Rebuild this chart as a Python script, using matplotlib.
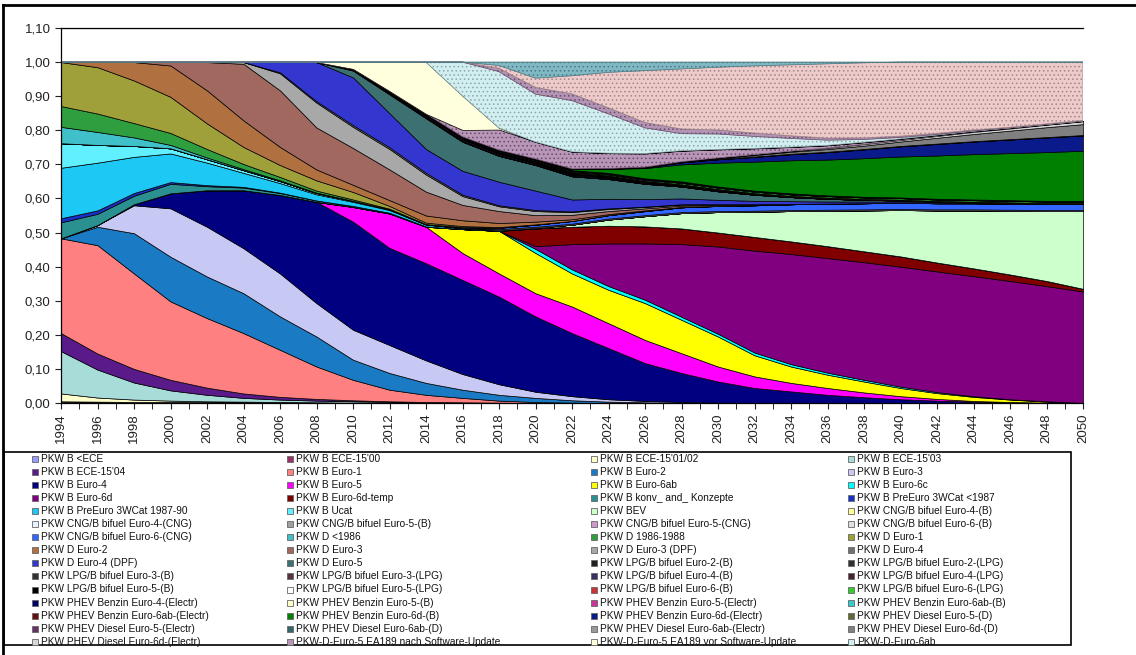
import matplotlib
matplotlib.use("Agg")
import matplotlib.pyplot as plt
from matplotlib.patches import Rectangle
from matplotlib.lines import Line2D
from matplotlib.ticker import MultipleLocator, FuncFormatter

plt.rcParams["font.family"] = ["Liberation Sans", "DejaVu Sans"]
plt.rcParams["hatch.linewidth"] = 0.6

W, H = 1136, 655

years = list(range(1994, 2051, 2))

# --- shares per vehicle layer (bottom of the stack first) ---
b_lt_ece = [0.002, 0.002, 0.001, 0.001, 0.001, 0.001, 0.001, 0.001] + [0] * 21
b_ece1500 = [0.003, 0.002, 0.002, 0.002, 0.002, 0.002, 0.001, 0.001, 0.001] + [0] * 20
b_ece1501 = [0.023, 0.012, 0.007, 0.004, 0.002, 0.001, 0.001] + [0] * 22
b_ece1503 = [0.124, 0.082, 0.05, 0.03, 0.019, 0.011, 0.007, 0.005, 0.004, 0.003, 0.002, 0.001] + [0] * 17
b_ece1504 = [0.053, 0.047, 0.04, 0.031, 0.021, 0.013, 0.008, 0.005, 0.003, 0.002, 0.001, 0.001, 0.001] + [0] * 16
b_euro1 = [0.278, 0.318, 0.28, 0.23, 0.204, 0.177, 0.138, 0.095, 0.06, 0.034, 0.021, 0.013, 0.006, 0.003, 0.001] + [0] * 14
b_euro2 = [0, 0.054, 0.118, 0.131, 0.122, 0.117, 0.098, 0.088, 0.059, 0.049, 0.035, 0.024, 0.017, 0.012, 0.007, 0.004, 0.002] + [0] * 12
b_euro3 = [0, 0.005, 0.082, 0.142, 0.146, 0.132, 0.126, 0.098, 0.088, 0.082, 0.066, 0.046, 0.031, 0.018, 0.012, 0.007, 0.004, 0.003, 0.001] + [0] * 10
b_euro4 = [0, 0, 0.003, 0.044, 0.107, 0.17, 0.23, 0.297, 0.317, 0.285, 0.285, 0.276, 0.257, 0.221, 0.185, 0.15, 0.111, 0.085, 0.062, 0.044,
           0.034, 0.024, 0.017, 0.011, 0.007, 0.004, 0.002, 0.001, 0]
b_euro5 = [0] * 8 + [0.043, 0.101, 0.107, 0.079, 0.068, 0.068, 0.078, 0.073, 0.068, 0.058, 0.044, 0.034, 0.025, 0.02, 0.014, 0.009,
                     0.005, 0.002, 0.001, 0, 0]
b_euro6ab = [0] * 11 + [0.07, 0.125, 0.118, 0.097, 0.098, 0.108, 0.098, 0.088, 0.062, 0.048, 0.039, 0.032, 0.024, 0.017, 0.012, 0.007, 0.003, 0]
b_euro6c = [0] * 13 + [0.012, 0.012, 0.011, 0.01, 0.009, 0.008, 0.008, 0.007, 0.006, 0.005, 0.004, 0.003, 0.002, 0.001, 0.001, 0]
b_euro6d = [0] * 13 + [0.008, 0.074, 0.125, 0.165, 0.213, 0.256, 0.299, 0.323, 0.336, 0.345, 0.352, 0.354, 0.352, 0.347, 0.338, 0.327]
b_euro6d_temp = [0] * 13 + [0.052, 0.051, 0.052, 0.05, 0.046, 0.041, 0.04, 0.037, 0.035, 0.032, 0.03, 0.026, 0.023, 0.019, 0.015, 0.008]
b_konv = [0.047, 0.033, 0.025, 0.028, 0.012, 0.008, 0.006, 0.004, 0.003, 0.002, 0.001] + [0] * 18
b_pre87 = [0.012, 0.01, 0.008, 0.005, 0.003, 0.002, 0.001] + [0] * 22
b_pre8790 = [0.148, 0.14, 0.106, 0.084, 0.066, 0.041, 0.028, 0.018, 0.012, 0.008, 0.005, 0.003, 0.002, 0.001] + [0] * 15
b_ucat = [0.072, 0.052, 0.032, 0.015, 0.01, 0.008, 0.006, 0.004, 0.003, 0.002, 0.001] + [0] * 18
bev = [0] * 13 + [0.001, 0.006, 0.018, 0.03, 0.045, 0.06, 0.074, 0.089, 0.104, 0.12, 0.136, 0.153, 0.17, 0.187, 0.205, 0.228]
cng6_b = [0] * 11 + [0.001] + [0.003] * 17
cng6_cng = [0] * 11 + [0.002, 0.004, 0.006, 0.008, 0.01, 0.012, 0.014, 0.015, 0.016, 0.017] + [0.018] * 8
d_lt86 = [0.048, 0.038, 0.025, 0.01, 0.005, 0.003, 0.002, 0.001] + [0] * 21
d_8688 = [0.061, 0.054, 0.042, 0.035, 0.025, 0.015, 0.01, 0.006, 0.004, 0.002, 0.001] + [0] * 18
d_euro1 = [0.129, 0.136, 0.125, 0.106, 0.075, 0.05, 0.035, 0.03, 0.022, 0.008, 0.004, 0.003, 0.002, 0.001] + [0] * 15
d_euro2 = [0, 0.015, 0.054, 0.092, 0.097, 0.078, 0.053, 0.032, 0.021, 0.017, 0.021, 0.017, 0.012, 0.008, 0.005, 0.003, 0.002, 0.001] + [0] * 11
d_euro3 = [0, 0, 0, 0.01, 0.083, 0.166, 0.166, 0.123, 0.108, 0.09, 0.07, 0.045, 0.035, 0.019, 0.013, 0.009, 0.006, 0.004, 0.003, 0.002, 0.001] + [0] * 8
d_euro3_dpf = [0, 0, 0, 0, 0, 0.005, 0.05, 0.073, 0.062, 0.06, 0.05, 0.026, 0.014, 0.012, 0.008, 0.006, 0.004, 0.003, 0.002, 0.001] + [0] * 9
d_euro4 = [0] * 6 + [0.003, 0.004, 0.005, 0.005, 0.005, 0.004, 0.003, 0.003, 0.002, 0.002, 0.001, 0.001] + [0] * 11
d_euro4_dpf = [0] * 6 + [0.03, 0.115, 0.14, 0.1, 0.07, 0.07, 0.069, 0.057, 0.035, 0.028, 0.022, 0.017, 0.013, 0.01, 0.008, 0.006,
                         0.005, 0.004, 0.003, 0.002, 0.002, 0.001, 0.001]
d_euro5 = [0] * 8 + [0.02, 0.055, 0.09, 0.085, 0.076, 0.075, 0.068, 0.058, 0.045, 0.035, 0.025, 0.018, 0.012, 0.008, 0.005, 0.003,
                     0.002, 0.001] + [0] * 3
lpg2_b = [0] * 8 + [0.002, 0.002, 0.002, 0.001] + [0] * 17
lpg3_b = [0] * 8 + [0.002, 0.003, 0.003, 0.003, 0.002, 0.002, 0.002, 0.002, 0.001] + [0] * 12
lpg4_b = [0] * 8 + [0.001, 0.003, 0.004, 0.004, 0.004, 0.003, 0.003, 0.003, 0.002, 0.002, 0.002, 0.001] + [0] * 9
lpg5_b = [0] * 9 + [0.002, 0.004, 0.005, 0.005, 0.005, 0.005, 0.004, 0.004, 0.003, 0.003, 0.002, 0.002, 0.002, 0.001, 0.001] + [0] * 5
lpg6_b = [0] * 11 + [0.001] + [0.002] * 17
lpg6_lpg = [0] * 13 + [0.001, 0.002, 0.003, 0.003] + [0.004] * 12
phev_b6ab_b = [0] * 11 + [0.001] + [0.002] * 9 + [0.001] * 8
phev_b6ab_el = [0] * 12 + [0.001] + [0.002] * 5 + [0.001] * 11
phev_b6d_b = [0] * 14 + [0.003, 0.012, 0.03, 0.05, 0.07, 0.085, 0.097, 0.105, 0.113, 0.12, 0.127, 0.133, 0.138, 0.143, 0.147]
phev_b6d_el = [0] * 16 + [0.002, 0.006, 0.01, 0.014, 0.018, 0.022, 0.026, 0.03, 0.034, 0.037, 0.04, 0.043, 0.045]
phev_d6ab_d = [0] * 12 + [0.001] * 17
phev_d6d_d = [0] * 17 + [0.001, 0.002, 0.004, 0.006, 0.008, 0.01, 0.013, 0.017, 0.021, 0.025, 0.029, 0.032]
phev_d6d_el = [0] * 18 + [0.001, 0.002, 0.002, 0.003, 0.004, 0.004, 0.005, 0.006, 0.006, 0.007, 0.008]
ea189_nach = [0] * 11 + [0.02, 0.06, 0.05, 0.05, 0.045, 0.04, 0.032, 0.025, 0.018, 0.012, 0.008, 0.006, 0.004, 0.003, 0.002, 0.002, 0.001, 0.001]
ea189_vor = [0] * 8 + [0.02, 0.085, 0.152, 0.1, 0.005] + [0] * 16
d_euro6ab = [0] * 11 + [0.099, 0.165, 0.14, 0.15, 0.115, 0.075, 0.05, 0.045, 0.035, 0.025, 0.015, 0.008, 0.004, 0.002, 0.001, 0, 0, 0]
# layers above the last legend entry (the legend box cuts them off)
d_euro6c = [0] * 12 + [0.01, 0.02, 0.02, 0.018, 0.016, 0.014, 0.012, 0.01, 0.008, 0.006, 0.005, 0.004, 0.003, 0.003, 0.002, 0.002, 0.002]
d_euro6d = [0] * 12 + [0.008, 0.027, 0.053, 0.104, 0.152, 0.176, 0.184, 0.197, 0.208, 0.218, 0.22, 0.217, 0.209, 0.199, 0.191, 0.181, 0.171]
d_euro6d_temp = [0] * 12 + [0.01, 0.047, 0.04, 0.03, 0.025, 0.02, 0.015, 0.011, 0.008, 0.005, 0.002] + [0] * 6

# legend entries in stack order, with fill colour
legend_items = [
    ("PKW B <ECE", b_lt_ece, "#9999ff"),
    ("PKW B ECE-15'00", b_ece1500, "#993366"),
    ("PKW B ECE-15'01/02", b_ece1501, "#ffffcc"),
    ("PKW B ECE-15'03", b_ece1503, "#a8dcd8"),
    ("PKW B ECE-15'04", b_ece1504, "#5a1a8a"),
    ("PKW B Euro-1", b_euro1, "#ff8080"),
    ("PKW B Euro-2", b_euro2, "#1a7ac4"),
    ("PKW B Euro-3", b_euro3, "#c8c8f5"),
    ("PKW B Euro-4", b_euro4, "#000080"),
    ("PKW B Euro-5", b_euro5, "#ff00ff"),
    ("PKW B Euro-6ab", b_euro6ab, "#ffff00"),
    ("PKW B Euro-6c", b_euro6c, "#00ffff"),
    ("PKW B Euro-6d", b_euro6d, "#800080"),
    ("PKW B Euro-6d-temp", b_euro6d_temp, "#800000"),
    ("PKW B konv_ and_ Konzepte", b_konv, "#2a9090"),
    ("PKW B PreEuro 3WCat <1987", b_pre87, "#1830c8"),
    ("PKW B PreEuro 3WCat 1987-90", b_pre8790, "#1ec8f5"),
    ("PKW B Ucat", b_ucat, "#60f0ff"),
    ("PKW BEV", bev, "#ccffcc"),
    ("PKW CNG/B bifuel Euro-4-(B)", None, "#ffff99"),
    ("PKW CNG/B bifuel Euro-4-(CNG)", None, "#e8f4ff"),
    ("PKW CNG/B bifuel Euro-5-(B)", None, "#a0a0a0"),
    ("PKW CNG/B bifuel Euro-5-(CNG)", None, "#cc99cc"),
    ("PKW CNG/B bifuel Euro-6-(B)", cng6_b, "#e0e0e0"),
    ("PKW CNG/B bifuel Euro-6-(CNG)", cng6_cng, "#3366ff"),
    ("PKW D <1986", d_lt86, "#40c0c8"),
    ("PKW D 1986-1988", d_8688, "#2e9e3e"),
    ("PKW D Euro-1", d_euro1, "#a0a03a"),
    ("PKW D Euro-2", d_euro2, "#b07040"),
    ("PKW D Euro-3", d_euro3, "#a0685f"),
    ("PKW D Euro-3 (DPF)", d_euro3_dpf, "#a8a8a8"),
    ("PKW D Euro-4", d_euro4, "#707070"),
    ("PKW D Euro-4 (DPF)", d_euro4_dpf, "#3436d0"),
    ("PKW D Euro-5", d_euro5, "#3d7070"),
    ("PKW LPG/B bifuel Euro-2-(B)", lpg2_b, "#202020"),
    ("PKW LPG/B bifuel Euro-2-(LPG)", None, "#303030"),
    ("PKW LPG/B bifuel Euro-3-(B)", lpg3_b, "#333333"),
    ("PKW LPG/B bifuel Euro-3-(LPG)", None, "#553344"),
    ("PKW LPG/B bifuel Euro-4-(B)", lpg4_b, "#333366"),
    ("PKW LPG/B bifuel Euro-4-(LPG)", None, "#442233"),
    ("PKW LPG/B bifuel Euro-5-(B)", lpg5_b, "#000000"),
    ("PKW LPG/B bifuel Euro-5-(LPG)", None, "#ffffff"),
    ("PKW LPG/B bifuel Euro-6-(B)", lpg6_b, "#cc3333"),
    ("PKW LPG/B bifuel Euro-6-(LPG)", lpg6_lpg, "#33cc33"),
    ("PKW PHEV Benzin Euro-4-(Electr)", None, "#000066"),
    ("PKW PHEV Benzin Euro-5-(B)", None, "#ffffcc"),
    ("PKW PHEV Benzin Euro-5-(Electr)", None, "#cc3399"),
    ("PKW PHEV Benzin Euro-6ab-(B)", phev_b6ab_b, "#33cccc"),
    ("PKW PHEV Benzin Euro-6ab-(Electr)", phev_b6ab_el, "#661111"),
    ("PKW PHEV Benzin Euro-6d-(B)", phev_b6d_b, "#008000"),
    ("PKW PHEV Benzin Euro-6d-(Electr)", phev_b6d_el, "#0a1a8a"),
    ("PKW PHEV Diesel Euro-5-(D)", None, "#666633"),
    ("PKW PHEV Diesel Euro-5-(Electr)", None, "#663366"),
    ("PKW PHEV Diesel Euro-6ab-(D)", phev_d6ab_d, "#336666"),
    ("PKW PHEV Diesel Euro-6ab-(Electr)", None, "#999999"),
    ("PKW PHEV Diesel Euro-6d-(D)", phev_d6d_d, "#808080"),
    ("PKW PHEV Diesel Euro-6d-(Electr)", phev_d6d_el, "#d8d8d8"),
    ("PKW-D-Euro-5 EA189 nach Software-Update", ea189_nach, "#b896b8"),
    ("PKW-D-Euro-5 EA189 vor Software-Update", ea189_vor, "#ffffdd"),
    ("PKW-D-Euro-6ab", d_euro6ab, "#d2eef0"),
]
extra_items = [
    ("PKW-D-Euro-6c", d_euro6c, "#b494b4"),
    ("PKW-D-Euro-6d", d_euro6d, "#eecaca"),
    ("PKW-D-Euro-6d-temp", d_euro6d_temp, "#80b8c4"),
]
hatched = {"PKW-D-Euro-5 EA189 nach Software-Update": "#6a4a6a", "PKW-D-Euro-6ab": "#8aa8aa",
           "PKW-D-Euro-6c": "#6a4a6a", "PKW-D-Euro-6d": "#a08888", "PKW-D-Euro-6d-temp": "#4a7a84"}

zero = [0] * len(years)
all_items = legend_items + extra_items
stack = [v if v is not None else zero for _, v, _ in all_items]
fills = [c for _, _, c in all_items]

fig = plt.figure(figsize=(W / 100, H / 100), dpi=100)
ax = fig.add_axes([61 / W, 1 - 403 / H, (1083 - 61) / W, (403 - 28) / H])

polys = ax.stackplot(years, stack, colors=fills, edgecolor="black", linewidth=0.5, zorder=2)
for (name, _, _), poly in zip(all_items, polys):
    if name in hatched:
        poly.set_edgecolor(hatched[name])
        poly.set_hatch("....")

ax.set_xlim(1994, 2050)
ax.set_ylim(0, 1.1)
ax.yaxis.set_major_locator(MultipleLocator(0.1))
ax.yaxis.set_major_formatter(FuncFormatter(lambda v, p: f"{v:.2f}".replace(".", ",")))
ax.xaxis.set_major_locator(MultipleLocator(2))
ax.xaxis.set_minor_locator(MultipleLocator(1))
ax.tick_params(axis="x", which="major", rotation=90, labelsize=9.5, direction="out", length=4, colors="#222222")
ax.tick_params(axis="x", which="minor", direction="out", length=4)
ax.tick_params(axis="y", labelsize=9.5, direction="out", length=4, colors="#222222")
ax.yaxis.grid(True, color="black", linewidth=0.8, zorder=0)
ax.set_axisbelow(True)
for side in ["left", "bottom", "top"]:
    ax.spines[side].set_linewidth(0.9)
ax.spines["right"].set_visible(False)

# legend box, 4 columns filled row by row
fig.patches.append(Rectangle((4 / W, 1 - 645 / H), 1067 / W, 193 / H, transform=fig.transFigure,
                             fill=False, edgecolor="black", linewidth=1.2))
col_x = [35, 290, 594, 851]
for i, (name, _, col) in enumerate(legend_items):
    r, c = divmod(i, 4)
    yc = 458.5 + r * 13.1
    fig.patches.append(Rectangle(((col_x[c] - 3) / W, 1 - (yc + 3) / H), 6 / W, 6 / H,
                                 transform=fig.transFigure, facecolor=col, edgecolor="#666666", linewidth=0.6))
    fig.text((col_x[c] + 6) / W, 1 - yc / H, name, fontsize=7.3, va="center", ha="left", color="#111111")

# outer chart frame
fig.lines.append(Line2D([3 / W, 1], [1 - 5 / H, 1 - 5 / H], transform=fig.transFigure, color="black", linewidth=2))
fig.lines.append(Line2D([3 / W, 3 / W], [0, 1 - 5 / H], transform=fig.transFigure, color="black", linewidth=2))

fig.savefig("out.png", dpi=100)
